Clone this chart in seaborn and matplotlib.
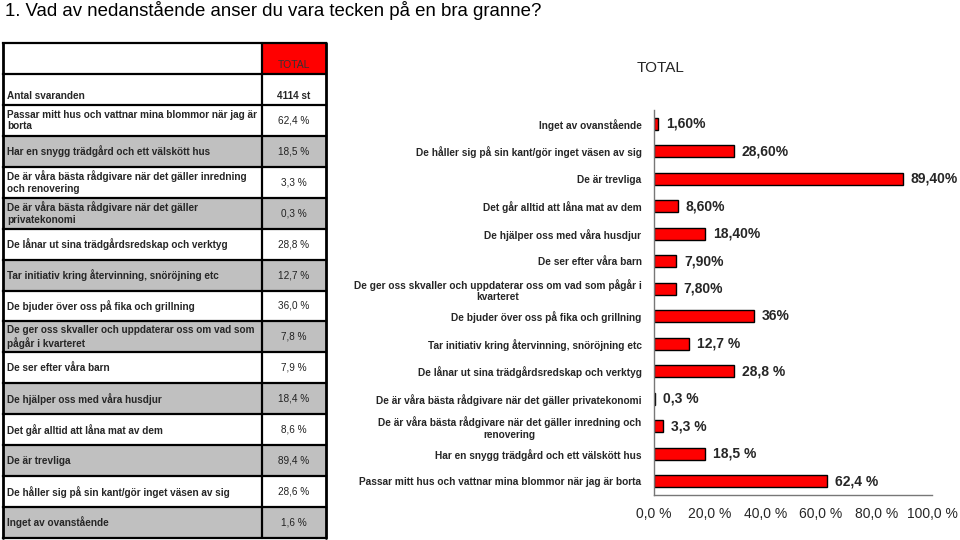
import matplotlib
matplotlib.use("Agg")
import matplotlib.pyplot as plt
import seaborn as sns
import pandas as pd
from matplotlib.patches import Rectangle
from matplotlib.ticker import FixedLocator

# ---------------- data ----------------
title = "1. Vad av nedanstående anser du vara tecken på en bra granne?"
chart_title = "TOTAL"
header_label = "TOTAL"
respondents_label = "Antal svaranden"
respondents_value = "4114 st"

# table order (top to bottom in the table)
table_labels = [
    "Passar mitt hus och vattnar mina blommor när jag är\nborta",
    "Har en snygg trädgård och ett välskött hus",
    "De är våra bästa rådgivare när det gäller inredning\noch renovering",
    "De är våra bästa rådgivare när det gäller\nprivatekonomi",
    "De lånar ut sina trädgårdsredskap och verktyg",
    "Tar initiativ kring återvinning, snöröjning etc",
    "De bjuder över oss på fika och grillning",
    "De ger oss skvaller och uppdaterar oss om vad som\npågår i kvarteret",
    "De ser efter våra barn",
    "De hjälper oss med våra husdjur",
    "Det går alltid att låna mat av dem",
    "De är trevliga",
    "De håller sig på sin kant/gör inget väsen av sig",
    "Inget av ovanstående",
]
chart_labels = [
    "Passar mitt hus och vattnar mina blommor när jag är borta",
    "Har en snygg trädgård och ett välskött hus",
    "De är våra bästa rådgivare när det gäller inredning och\nrenovering",
    "De är våra bästa rådgivare när det gäller privatekonomi",
    "De lånar ut sina trädgårdsredskap och verktyg",
    "Tar initiativ kring återvinning, snöröjning etc",
    "De bjuder över oss på fika och grillning",
    "De ger oss skvaller och uppdaterar oss om vad som pågår i\nkvarteret",
    "De ser efter våra barn",
    "De hjälper oss med våra husdjur",
    "Det går alltid att låna mat av dem",
    "De är trevliga",
    "De håller sig på sin kant/gör inget väsen av sig",
    "Inget av ovanstående",
]
values = [62.4, 18.5, 3.3, 0.3, 28.8, 12.7, 36.0, 7.8, 7.9, 18.4, 8.6, 89.4, 28.6, 1.6]
table_value_labels = ["62,4 %", "18,5 %", "3,3 %", "0,3 %", "28,8 %", "12,7 %", "36,0 %",
                      "7,8 %", "7,9 %", "18,4 %", "8,6 %", "89,4 %", "28,6 %", "1,6 %"]
bar_value_labels = ["62,4 %", "18,5 %", "3,3 %", "0,3 %", "28,8 %", "12,7 %", "36%",
                    "7,80%", "7,90%", "18,40%", "8,60%", "89,40%", "28,60%", "1,60%"]
x_ticks = [0, 20, 40, 60, 80, 100]
x_tick_labels = ["0,0 %", "20,0 %", "40,0 %", "60,0 %", "80,0 %", "100,0 %"]

# ---------------- figure ----------------
sns.set_style("white")
plt.rcParams["font.family"] = ["Liberation Sans", "DejaVu Sans"]

W, H = 960, 540
fig = plt.figure(figsize=(W / 100, H / 100), dpi=100)
fig.patch.set_facecolor("white")

# full-figure axes in pixel coordinates for the table
bg = fig.add_axes([0, 0, 1, 1], zorder=0)
bg.set_xlim(0, W)
bg.set_ylim(H, 0)
bg.axis("off")

fig.text(5 / W, 1 - 11 / H, title, fontsize=13.4, va="center", ha="left", color="black")

# table
t_left, t_div, t_right = 3, 262, 326
t_top, t_bot = 43, 538
n_rows = 2 + len(table_labels)
rh = (t_bot - t_top) / n_rows
gray = "#c0c0c0"
tfs = 7.2

# header row
bg.add_patch(Rectangle((t_div, t_top), t_right - t_div, rh, facecolor="#ff0000", edgecolor="none"))
bg.text((t_div + t_right) / 2, t_top + rh * 0.72, header_label, ha="center", va="center",
        fontsize=7.5, color="#333333")
# respondents row
y0 = t_top + rh
bg.text(t_left + 4, y0 + rh * 0.72, respondents_label, ha="left", va="center",
        fontsize=tfs, fontweight="bold")
bg.text((t_div + t_right) / 2, y0 + rh * 0.72, respondents_value, ha="center", va="center",
        fontsize=tfs, fontweight="bold")

for i, (lab, vl) in enumerate(zip(table_labels, table_value_labels)):
    y0 = t_top + (i + 2) * rh
    if i % 2 == 1:
        bg.add_patch(Rectangle((t_left, y0), t_right - t_left, rh, facecolor=gray, edgecolor="none"))
    cy = y0 + rh / 2
    bg.text(t_left + 4, cy, lab, ha="left", va="center", fontsize=tfs, fontweight="bold",
            linespacing=1.2)
    bg.text((t_div + t_right) / 2, cy, vl, ha="center", va="center", fontsize=tfs, color="#222222")

for k in range(n_rows + 1):
    yy = t_top + k * rh
    bg.plot([t_left, t_right], [yy, yy], color="black", lw=1.6, solid_capstyle="projecting")
bg.plot([t_left, t_left], [t_top, t_bot], color="black", lw=2)
bg.plot([t_right, t_right], [t_top, t_bot], color="black", lw=2)
bg.plot([t_div, t_div], [t_top, t_bot], color="black", lw=1.6)

# ---------------- bar chart ----------------
ax_l, ax_r, ax_t, ax_b = 654, 932, 110, 495
ax = fig.add_axes([ax_l / W, 1 - ax_b / H, (ax_r - ax_l) / W, (ax_b - ax_t) / H], zorder=1)
ax.patch.set_alpha(0)

df = pd.DataFrame({"label": chart_labels[::-1], "value": values[::-1]})
sns.barplot(data=df, y="label", x="value", orient="h", color="#ff0000", saturation=1,
            edgecolor="black", linewidth=1.0, width=0.45, ax=ax)

n = len(df)
ax.set_xlim(0, 100)
ax.set_ylim(n - 0.5, -0.5)
ax.set_xlabel("")
ax.set_ylabel("")
ax.set_xticks(x_ticks)
ax.set_xticklabels(x_tick_labels, fontsize=10)
for lbl in ax.get_yticklabels():
    lbl.set_fontsize(7.3)
    lbl.set_fontweight("bold")
    lbl.set_multialignment("center")
ax.tick_params(axis="y", which="major", length=0, pad=9)
ax.yaxis.set_minor_locator(FixedLocator([k - 0.5 for k in range(n + 1)]))
ax.tick_params(axis="y", which="minor", length=3, direction="out", color="#666666")
ax.tick_params(axis="x", which="major", length=3, direction="out", color="#666666", pad=6)
for side in ["top", "right"]:
    ax.spines[side].set_visible(False)
for side in ["left", "bottom"]:
    ax.spines[side].set_color("#777777")
    ax.spines[side].set_linewidth(1)

for p, txt in zip(ax.patches, bar_value_labels[::-1]):
    ax.annotate(txt, (p.get_width(), p.get_y() + p.get_height() / 2), xytext=(8, 0),
                textcoords="offset pixels", ha="left", va="center", fontsize=10,
                fontweight="bold", annotation_clip=False)

fig.text(661 / W, 1 - 68 / H, chart_title, ha="center", va="center", fontsize=11)

fig.savefig("out.png", dpi=100, facecolor="white")
